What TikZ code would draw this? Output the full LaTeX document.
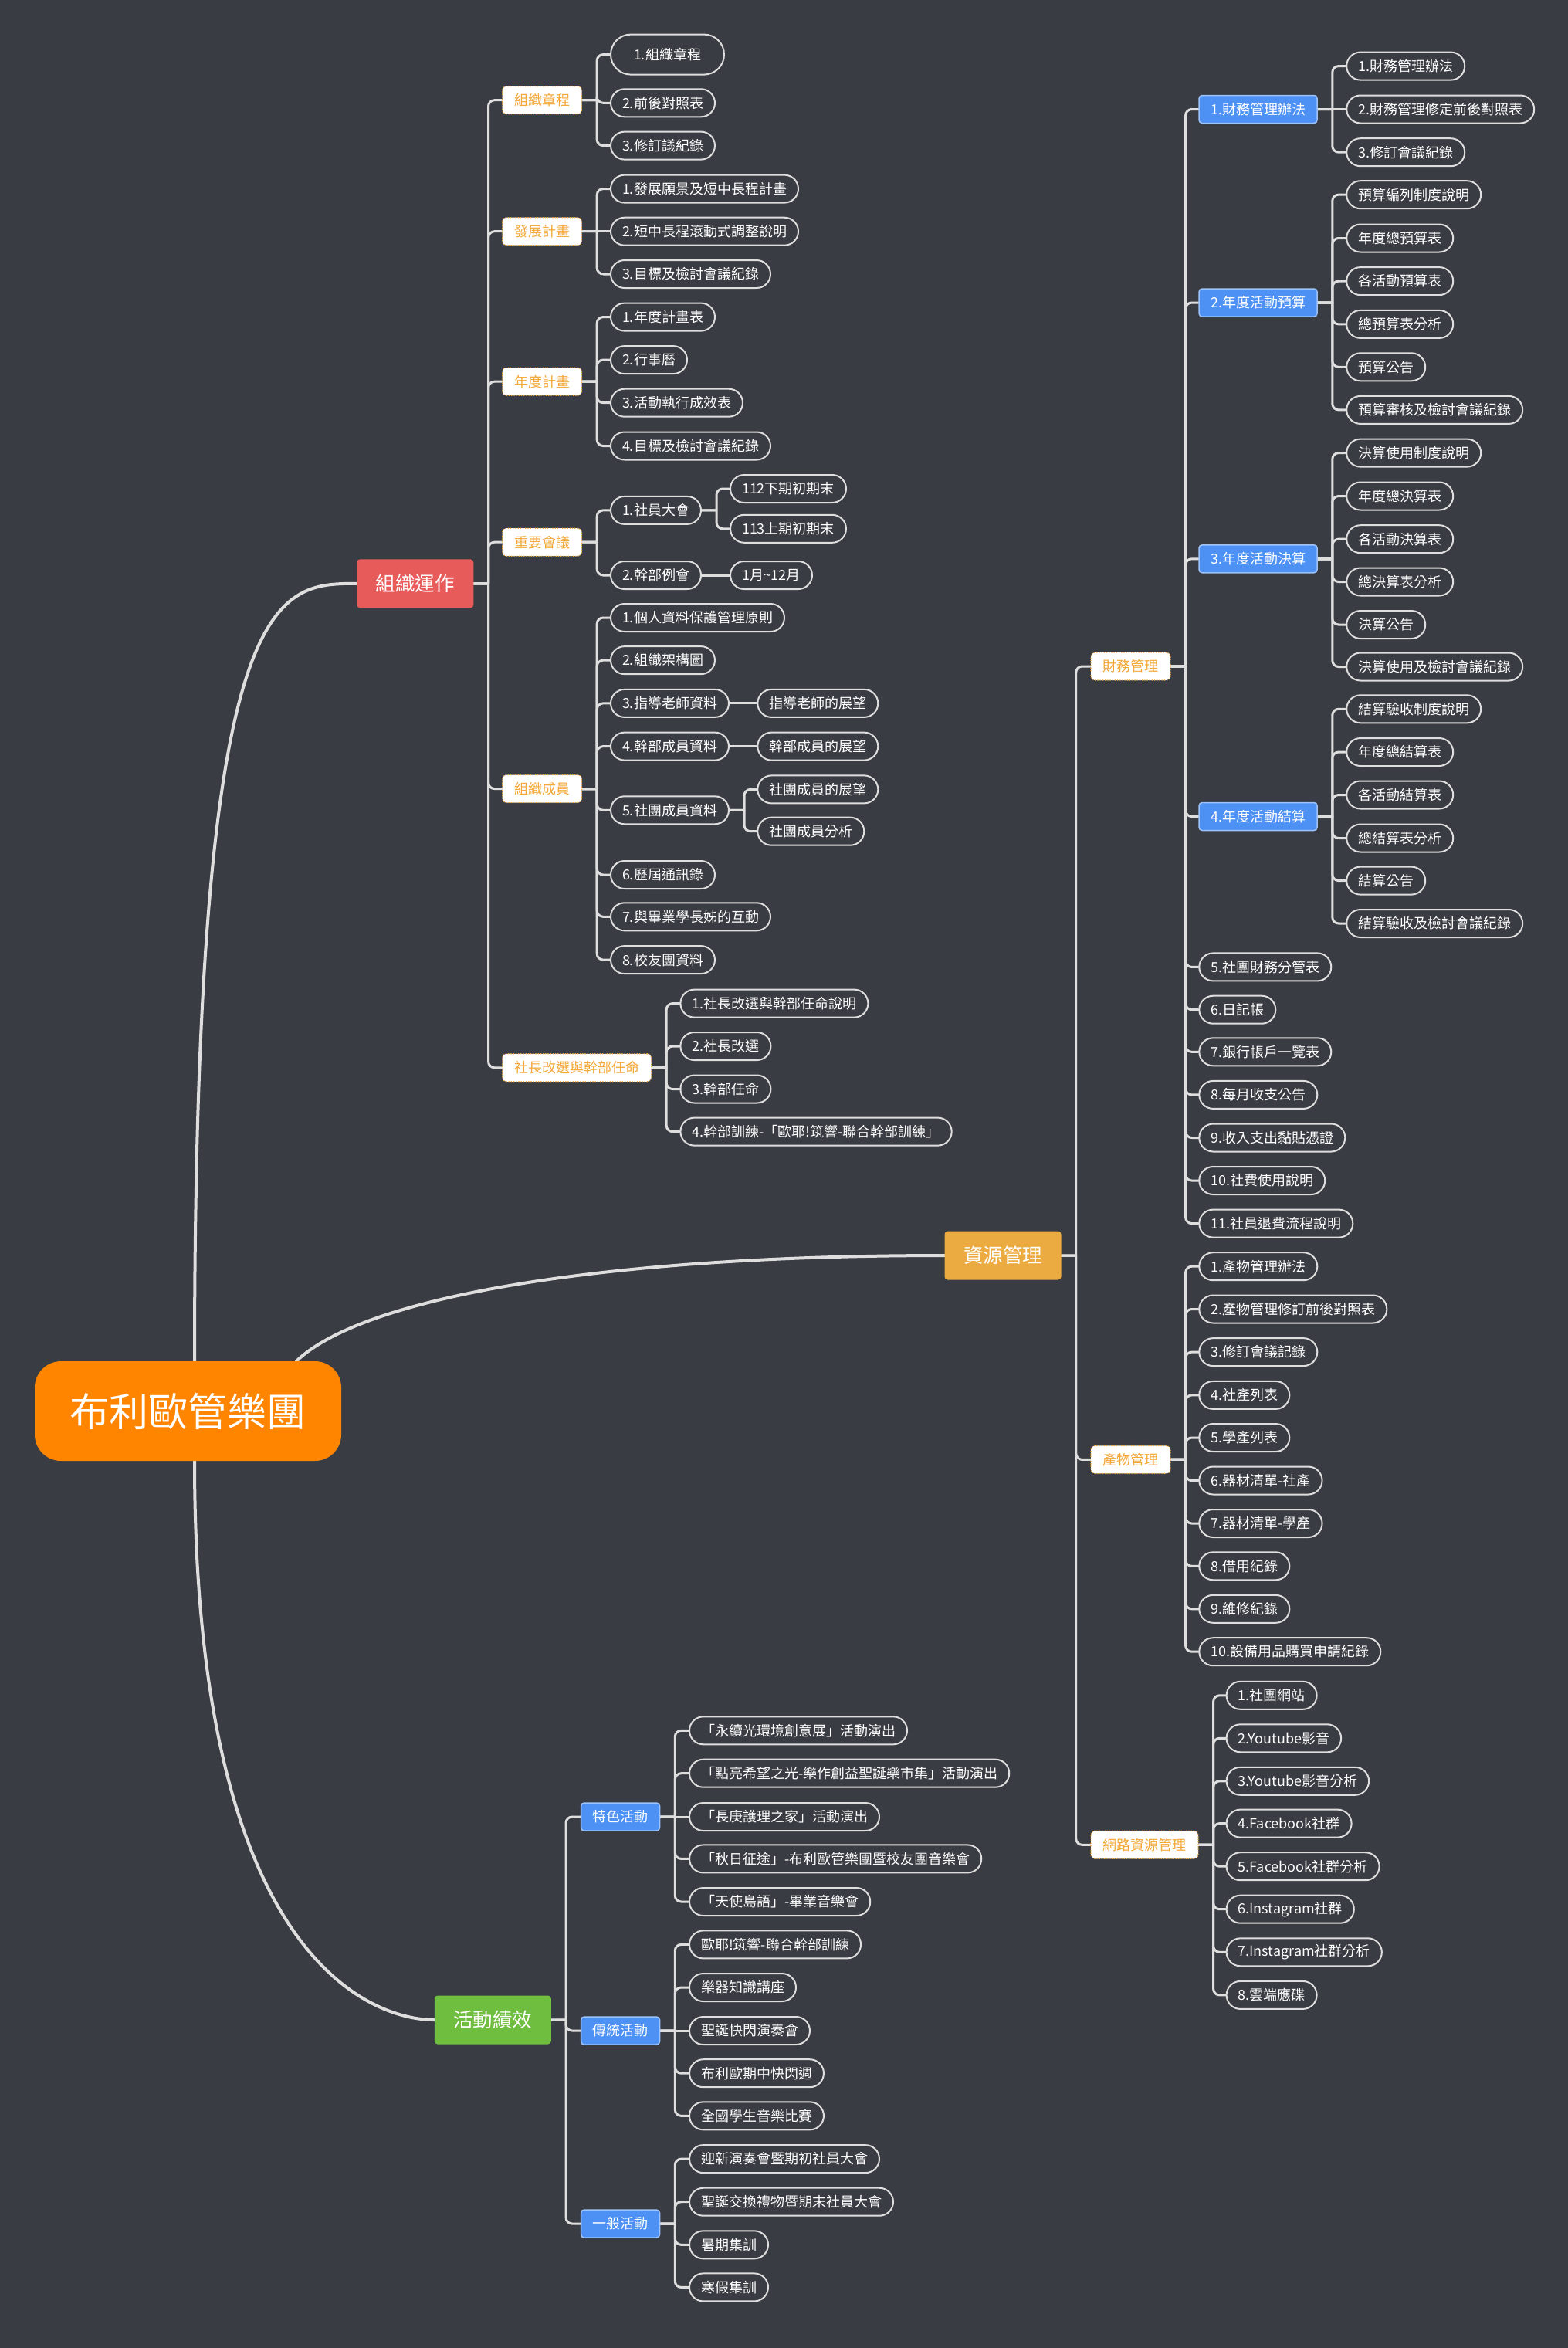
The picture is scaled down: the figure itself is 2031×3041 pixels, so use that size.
\documentclass[tikz,border=0pt]{standalone}
\usepackage{fontspec}
\setmainfont{Noto Sans CJK TC}
\definecolor{bgc}{RGB}{57,60,66}
\definecolor{rootc}{RGB}{255,133,0}
\definecolor{redc}{RGB}{232,91,91}
\definecolor{amberc}{RGB}{235,171,64}
\definecolor{greenc}{RGB}{112,190,64}
\definecolor{bluec}{RGB}{77,145,245}
\definecolor{otxt}{RGB}{243,168,56}
\definecolor{linec}{RGB}{222,222,222}
\pgfdeclarelayer{back}
\pgfdeclarelayer{lines}
\pgfsetlayers{back,lines,main}
\tikzset{
  fnt/.style={font=\fontsize{18}{20}\selectfont},
  leaf/.style={draw=linec, line width=2pt, fill=bgc, rounded corners=18pt, text=white, fnt, inner xsep=15pt, inner ysep=0pt, minimum height=36pt, anchor=west},
  leafbig/.style={leaf, inner xsep=30pt, minimum height=52pt, rounded corners=26pt},
  bbox/.style={draw=bluec!55!white, line width=1.5pt, fill=bluec, rounded corners=4pt, text=white, fnt, inner xsep=15pt, inner ysep=0pt, minimum height=36pt, anchor=west},
  obox/.style={draw=otxt, dotted, line width=1.2pt, fill=white, rounded corners=5pt, text=otxt, fnt, inner xsep=15.5pt, inner ysep=0pt, minimum height=36pt, anchor=west},
  mainbox/.style={rounded corners=4pt, text=white, font=\fontsize{25.5}{28}\selectfont, minimum width=151pt, minimum height=63pt, inner sep=0pt},
  rootbox/.style={rounded corners=34pt, fill=rootc, text=white, font=\fontsize{51}{56}\selectfont, minimum width=397pt, minimum height=129pt, inner sep=0pt},
  conn/.style={draw=linec, line width=3pt, line cap=round},
  curve/.style={draw=linec, line width=4pt, line cap=round},
}
% #1 style, #2 name, #3 parent, #4 x, #5 y, #6 text
\newcommand\kid[6][leaf]{%
  \node[#1] (#2) at (#4,#5) {#6};
  \begin{pgfonlayer}{lines}
  \draw[conn] (#3.east) -- ++(19,0) ++(0,0) [rounded corners=8pt] |- (#2.west);
  \end{pgfonlayer}}
\newcommand\kidS[6][leaf]{%
  \node[#1] (#2) at (#4,#5) {#6};
  \begin{pgfonlayer}{lines}
  \draw[conn] (#3.east) -- (#2.west);
  \end{pgfonlayer}}
\begin{document}
\begin{tikzpicture}[x=1pt,y=-1pt]
\begin{pgfonlayer}{back}
\fill[bgc] (0,0) rectangle (2031,3041);
\end{pgfonlayer}
\useasboundingbox (0,0) rectangle (2031,3041);

% root and main branches
\node[rootbox] (root) at (243.5,1827.5) {布利歐管樂團};
\node[mainbox, fill=redc] (org) at (537.8,755.8) {組織運作};
\node[mainbox, fill=amberc] (res) at (1299,1626) {資源管理};
\node[mainbox, fill=greenc] (act) at (638.3,2616) {活動績效};
\begin{pgfonlayer}{lines}
\draw[curve] ([xshift=8.5pt]root.north) .. controls (252,756) and (357,756) .. (org.west);
\draw[curve] ([xshift=140.5pt]root.north) .. controls (470,1680) and (780,1626) .. (res.west);
\draw[curve] ([xshift=8.5pt]root.south) .. controls (252,2616) and (540,2616) .. (act.west);
\end{pgfonlayer}

% ===== 組織運作 =====
\kid[obox]{o1}{org}{650}{129.7}{組織章程}
\kid[obox]{o2}{org}{650}{299.7}{發展計畫}
\kid[obox]{o3}{org}{650}{494.2}{年度計畫}
\kid[obox]{o4}{org}{650}{702.2}{重要會議}
\kid[obox]{o5}{org}{650}{1021.6}{組織成員}
\kid[obox]{o6}{org}{650}{1382.8}{社長改選與幹部任命}

\kid[leafbig]{l11}{o1}{790}{70.6}{1.組織章程}
\kid{l12}{o1}{790}{133.3}{2.前後對照表}
\kid{l13}{o1}{790}{188.6}{3.修訂議紀錄}

\kid{l21}{o2}{790}{244.6}{1.發展願景及短中長程計畫}
\kidS{l22}{o2}{790}{299.7}{2.短中長程滾動式調整說明}
\kid{l23}{o2}{790}{355}{3.目標及檢討會議紀錄}

\kid{l31}{o3}{790}{410.6}{1.年度計畫表}
\kid{l32}{o3}{790}{466.1}{2.行事曆}
\kid{l33}{o3}{790}{521.7}{3.活動執行成效表}
\kid{l34}{o3}{790}{577.5}{4.目標及檢討會議紀錄}

\kid{l41}{o4}{790}{660.9}{1.社員大會}
\kid{l41a}{l41}{945}{633}{112下期初期末}
\kid{l41b}{l41}{945}{684.8}{113上期初期末}
\kid{l42}{o4}{790}{745}{2.幹部例會}
\kidS{l42a}{l42}{945}{745}{1月\textasciitilde12月}

\kid{l51}{o5}{790}{800}{1.個人資料保護管理原則}
\kid{l52}{o5}{790}{855.1}{2.組織架構圖}
\kid{l53}{o5}{790}{910.9}{3.指導老師資料}
\kidS{l53a}{l53}{980.3}{910.9}{指導老師的展望}
\kid{l54}{o5}{790}{966.6}{4.幹部成員資料}
\kidS{l54a}{l54}{980.3}{966.6}{幹部成員的展望}
\kid{l55}{o5}{790}{1049.3}{5.社團成員資料}
\kid{l55a}{l55}{980.3}{1022.4}{社團成員的展望}
\kid{l55b}{l55}{980.3}{1076.7}{社團成員分析}
\kid{l56}{o5}{790}{1133}{6.歷屆通訊錄}
\kid{l57}{o5}{790}{1187.3}{7.與畢業學長姊的互動}
\kid{l58}{o5}{790}{1243.1}{8.校友團資料}

\kid{l61}{o6}{880.4}{1299.6}{1.社長改選與幹部任命說明}
\kid{l62}{o6}{880.4}{1355}{2.社長改選}
\kid{l63}{o6}{880.4}{1410.5}{3.幹部任命}
\kid{l64}{o6}{880.4}{1465.6}{4.幹部訓練-「歐耶!筑響-聯合幹部訓練」}

% ===== 資源管理 =====
\kid[obox]{r1}{res}{1412.4}{863}{財務管理}
\kid[obox]{r2}{res}{1412.4}{1890.4}{產物管理}
\kid[obox]{r3}{res}{1412.4}{2389.3}{網路資源管理}

\kid[bbox]{b1}{r1}{1552.3}{141.5}{1.財務管理辦法}
\kid[bbox]{b2}{r1}{1552.3}{392}{2.年度活動預算}
\kid[bbox]{b3}{r1}{1552.3}{723.8}{3.年度活動決算}
\kid[bbox]{b4}{r1}{1552.3}{1057.5}{4.年度活動結算}
\kid{f5}{r1}{1552.3}{1252.4}{5.社團財務分管表}
\kid{f6}{r1}{1552.3}{1307.7}{6.日記帳}
\kid{f7}{r1}{1552.3}{1362.3}{7.銀行帳戶一覽表}
\kid{f8}{r1}{1552.3}{1417.9}{8.每月收支公告}
\kid{f9}{r1}{1552.3}{1473.5}{9.收入支出黏貼憑證}
\kid{f10}{r1}{1552.3}{1529}{10.社費使用說明}
\kid{f11}{r1}{1552.3}{1584.6}{11.社員退費流程說明}

\kid{b1a}{b1}{1743.2}{85.6}{1.財務管理辦法}
\kidS{b1b}{b1}{1743.2}{141.5}{2.財務管理修定前後對照表}
\kid{b1c}{b1}{1743.2}{197.2}{3.修訂會議紀錄}

\kid{b2a}{b2}{1743.2}{252.2}{預算編列制度說明}
\kid{b2b}{b2}{1743.2}{308.5}{年度總預算表}
\kid{b2c}{b2}{1743.2}{364.1}{各活動預算表}
\kid{b2d}{b2}{1743.2}{419.9}{總預算表分析}
\kid{b2e}{b2}{1743.2}{475.3}{預算公告}
\kid{b2f}{b2}{1743.2}{530.9}{預算審核及檢討會議紀錄}

\kid{b3a}{b3}{1743.2}{586.6}{決算使用制度說明}
\kid{b3b}{b3}{1743.2}{642.5}{年度總決算表}
\kid{b3c}{b3}{1743.2}{698.2}{各活動決算表}
\kid{b3d}{b3}{1743.2}{753.5}{總決算表分析}
\kid{b3e}{b3}{1743.2}{809}{決算公告}
\kid{b3f}{b3}{1743.2}{863.5}{決算使用及檢討會議紀錄}

\kid{b4a}{b4}{1743.2}{918.3}{結算驗收制度說明}
\kid{b4b}{b4}{1743.2}{974}{年度總結算表}
\kid{b4c}{b4}{1743.2}{1029.5}{各活動結算表}
\kid{b4d}{b4}{1743.2}{1085.5}{總結算表分析}
\kid{b4e}{b4}{1743.2}{1140.6}{結算公告}
\kid{b4f}{b4}{1743.2}{1196}{結算驗收及檢討會議紀錄}

\kid{p1}{r2}{1552.3}{1640.2}{1.產物管理辦法}
\kid{p2}{r2}{1552.3}{1695.5}{2.產物管理修訂前後對照表}
\kid{p3}{r2}{1552.3}{1751.1}{3.修訂會議記錄}
\kid{p4}{r2}{1552.3}{1806.9}{4.社產列表}
\kid{p5}{r2}{1552.3}{1862}{5.學產列表}
\kid{p6}{r2}{1552.3}{1917.5}{6.器材清單-社產}
\kid{p7}{r2}{1552.3}{1973}{7.器材清單-學產}
\kid{p8}{r2}{1552.3}{2028.3}{8.借用紀錄}
\kid{p9}{r2}{1552.3}{2083.8}{9.維修紀錄}
\kid{p10}{r2}{1552.3}{2139.2}{10.設備用品購買申請紀錄}

\kid{n1}{r3}{1587.6}{2195.8}{1.社團網站}
\kid{n2}{r3}{1587.6}{2251.3}{2.Youtube影音}
\kid{n3}{r3}{1587.6}{2306.8}{3.Youtube影音分析}
\kid{n4}{r3}{1587.6}{2361.6}{4.Facebook社群}
\kid{n5}{r3}{1587.6}{2417.2}{5.Facebook社群分析}
\kid{n6}{r3}{1587.6}{2472.7}{6.Instagram社群}
\kid{n7}{r3}{1587.6}{2528.3}{7.Instagram社群分析}
\kid{n8}{r3}{1587.6}{2583.9}{8.雲端應碟}

% ===== 活動績效 =====
\kid[bbox]{a1}{act}{751.8}{2353}{特色活動}
\kid[bbox]{a2}{act}{751.8}{2630}{傳統活動}
\kid[bbox]{a3}{act}{751.8}{2880}{一般活動}

\kid{s1}{a1}{892}{2241.3}{「永續光環境創意展」活動演出}
\kid{s2}{a1}{892}{2296.7}{「點亮希望之光-樂作創益聖誕樂市集」活動演出}
\kidS{s3}{a1}{892}{2353}{「長庚護理之家」活動演出}
\kid{s4}{a1}{892}{2407.4}{「秋日征途」-布利歐管樂團暨校友團音樂會}
\kid{s5}{a1}{892}{2463}{「天使島語」-畢業音樂會}

\kid{t1}{a2}{892}{2518.4}{歐耶!筑響-聯合幹部訓練}
\kid{t2}{a2}{892}{2574}{樂器知識講座}
\kidS{t3}{a2}{892}{2630}{聖誕快閃演奏會}
\kid{t4}{a2}{892}{2685.2}{布利歐期中快閃週}
\kid{t5}{a2}{892}{2740.3}{全國學生音樂比賽}

\kid{g1}{a3}{892}{2796.1}{迎新演奏會暨期初社員大會}
\kid{g2}{a3}{892}{2851.7}{聖誕交換禮物暨期末社員大會}
\kid{g3}{a3}{892}{2907.3}{暑期集訓}
\kid{g4}{a3}{892}{2962.4}{寒假集訓}
\end{tikzpicture}
\end{document}
